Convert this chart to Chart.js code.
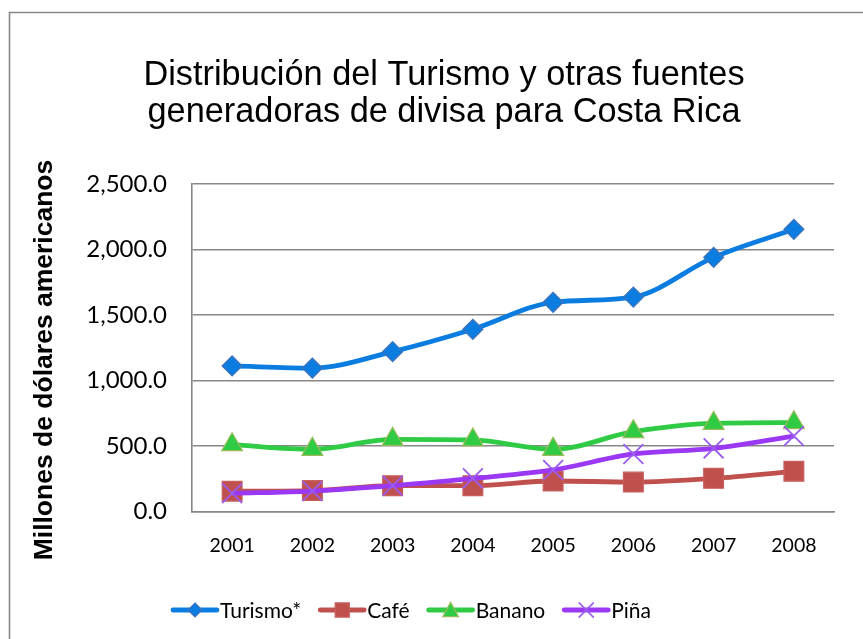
<!DOCTYPE html>
<html>
<head>
<meta charset="utf-8">
<script src="https://cdn.jsdelivr.net/npm/chart.js@4.4.1/dist/chart.umd.min.js"></script>
<style>
  html, body { margin: 0; padding: 0; background: #ffffff; }
  #wrap { width: 863px; height: 639px; position: relative; }
</style>
</head>
<body>
<div id="wrap"><canvas id="c" width="863" height="639"></canvas></div>
<script>
// ---- data ----
const titleLines = ['Distribución del Turismo y otras fuentes', 'generadoras de divisa para Costa Rica'];
const yAxisTitle = 'Millones de dólares americanos';
const years = ['2001', '2002', '2003', '2004', '2005', '2006', '2007', '2008'];
const seriesNames = ['Turismo*', 'Café', 'Banano', 'Piña'];
const turismo = [1111, 1095, 1220, 1391, 1597, 1637, 1940, 2154];
const cafe    = [155, 160, 197, 197, 233, 225, 253, 307];
const banano  = [510, 475, 551, 546, 475, 609, 673, 678];
const pina    = [139, 156, 197, 253, 317, 439, 482, 576];
const yTickValues = [0, 500, 1000, 1500, 2000, 2500];
const yTickLabels = ['0.0', '500.0', '1,000.0', '1,500.0', '2,000.0', '2,500.0'];

// ---- styles ----
const SANS = "Lato, 'Open Sans', sans-serif";
const ARIAL = "'Liberation Sans', Arial, sans-serif";
const GRID = '#878787';
const styles = [
  { line: '#0B7DE0', fill: '#0B7DE0', border: '#4173BA', point: 'rectRot', r: 10, lr: 7 },
  { line: '#C0504D', fill: '#C0504D', border: '#C8605D', point: 'rect', r: 14, lr: 10 },
  { line: '#2FCB45', fill: '#2FCB45', border: '#9BBB59', point: 'triangle', r: 12, lr: 9 },
  { line: '#9A38F4', fill: 'rgba(255,255,255,0)', border: '#9B5CF0', point: 'crossRot', r: 14, lr: 10 }
];
const seriesData = [turismo, cafe, banano, pina];
const orders = [3, 2, 1, 0];

const datasets = seriesNames.map((name, i) => ({
  label: name,
  data: seriesData[i],
  borderColor: styles[i].line,
  backgroundColor: styles[i].fill,
  borderWidth: 4.8,
  pointStyle: styles[i].point,
  pointRadius: styles[i].r,
  pointHoverRadius: styles[i].r,
  pointBackgroundColor: styles[i].fill,
  pointBorderColor: styles[i].border,
  pointBorderWidth: i === 3 ? 1.8 : 1.2,
  tension: 0.25,
  cubicInterpolationMode: 'monotone',
  order: orders[i],
  fill: false
}));

// ---- plugins ----
const frame = {
  id: 'frame',
  beforeDraw(chart) {
    const ctx = chart.ctx;
    ctx.save();
    ctx.strokeStyle = '#888888';
    ctx.lineWidth = 1.6;
    ctx.beginPath();
    ctx.moveTo(9.5, 700);
    ctx.lineTo(9.5, 12.5);
    ctx.lineTo(900, 12.5);
    ctx.stroke();
    ctx.restore();
  }
};

const yTitle = {
  id: 'yTitle',
  afterDraw(chart) {
    const ctx = chart.ctx;
    ctx.save();
    ctx.translate(52, 360);
    ctx.rotate(-Math.PI / 2);
    ctx.font = "bold 26.5px " + ARIAL;
    ctx.fillStyle = '#000000';
    ctx.textAlign = 'center';
    ctx.textBaseline = 'alphabetic';
    ctx.fillText(yAxisTitle, 0, 0);
    ctx.restore();
  }
};

function drawMarker(ctx, type, x, y, r, fill, stroke, lw) {
  ctx.save();
  ctx.beginPath();
  if (type === 'rectRot') {
    ctx.moveTo(x, y - r); ctx.lineTo(x + r, y); ctx.lineTo(x, y + r); ctx.lineTo(x - r, y); ctx.closePath();
  } else if (type === 'rect') {
    const s = r * Math.SQRT1_2;
    ctx.rect(x - s, y - s, 2 * s, 2 * s);
  } else if (type === 'triangle') {
    const h = r * 1.5;
    ctx.moveTo(x, y - h / 2 - 1); ctx.lineTo(x + r * 0.866, y + h / 2); ctx.lineTo(x - r * 0.866, y + h / 2); ctx.closePath();
  } else if (type === 'crossRot') {
    const s = r * Math.SQRT1_2;
    ctx.moveTo(x - s, y - s); ctx.lineTo(x + s, y + s);
    ctx.moveTo(x + s, y - s); ctx.lineTo(x - s, y + s);
    ctx.strokeStyle = stroke; ctx.lineWidth = lw; ctx.stroke();
    ctx.restore();
    return;
  }
  ctx.fillStyle = fill; ctx.fill();
  ctx.strokeStyle = stroke; ctx.lineWidth = lw; ctx.stroke();
  ctx.restore();
}

const bottomLegend = {
  id: 'bottomLegend',
  afterDraw(chart) {
    const ctx = chart.ctx;
    ctx.save();
    ctx.font = '21px ' + SANS;
    ctx.textBaseline = 'middle';
    ctx.textAlign = 'left';
    const y = 610;
    let x = 173;
    seriesNames.forEach((name, i) => {
      const st = styles[i];
      ctx.beginPath();
      ctx.moveTo(x, y); ctx.lineTo(x + 44, y);
      ctx.strokeStyle = st.line; ctx.lineWidth = 4.8; ctx.lineCap = 'round';
      ctx.stroke();
      drawMarker(ctx, st.point, x + 22, y, st.lr, st.fill, st.border, i === 3 ? 1.6 : 1.2);
      ctx.fillStyle = '#000000';
      ctx.fillText(name, x + 47, y + 1);
      x += 47 + ctx.measureText(name).width + 19;
    });
    ctx.restore();
  }
};

new Chart(document.getElementById('c'), {
  type: 'line',
  data: { labels: years, datasets: datasets },
  options: {
    responsive: false,
    animation: false,
    events: [],
    layout: { padding: { left: 54, right: 29, top: 0, bottom: 0 } },
    plugins: {
      legend: { display: false },
      tooltip: { enabled: false },
      title: {
        display: true,
        text: titleLines,
        color: '#000000',
        font: { family: ARIAL, size: 34.3, weight: 'normal', lineHeight: '37px' },
        padding: { top: 57, bottom: 53 }
      }
    },
    scales: {
      x: {
        type: 'category',
        offset: true,
        afterFit(scale) { scale.height = 127.5; },
        grid: { display: false, drawTicks: false },
        border: { display: true, color: GRID, width: 1.6 },
        ticks: {
          color: '#000000',
          padding: 23,
          maxRotation: 0,
          font: { family: SANS, size: 19.5 }
        }
      },
      y: {
        min: 0,
        max: 2500,
        afterFit(scale) { scale.width = 138; },
        afterBuildTicks(scale) { scale.ticks = yTickValues.map(v => ({ value: v })); },
        grid: { color: GRID, lineWidth: 1.6, drawTicks: false },
        border: { display: true, color: GRID, width: 1.6 },
        ticks: {
          color: '#000000',
          padding: 25,
          font: { family: SANS, size: 24 },
          callback: (value) => yTickLabels[yTickValues.indexOf(value)]
        }
      }
    }
  },
  plugins: [frame, yTitle, bottomLegend]
});
</script>
</body>
</html>
